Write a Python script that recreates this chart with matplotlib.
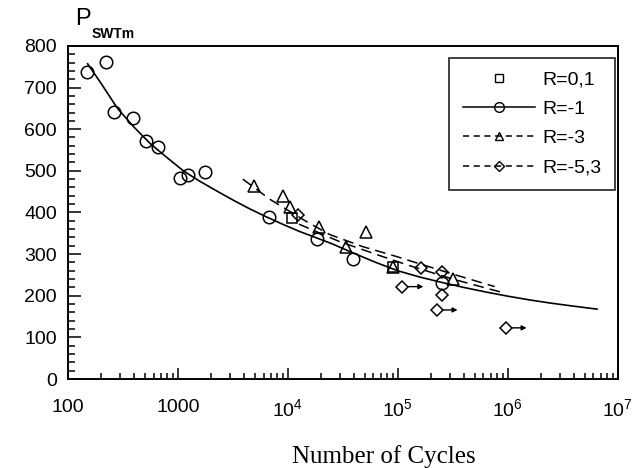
import matplotlib.pyplot as plt
from matplotlib.lines import Line2D
from matplotlib.ticker import FixedLocator, NullFormatter

plt.rcParams['font.family'] = ['Liberation Sans', 'DejaVu Sans']
plt.rcParams['mathtext.fontset'] = 'custom'
plt.rcParams['mathtext.rm'] = 'Liberation Sans'

# test points
N_r01 = [11000, 90000]
P_r01 = [387, 268]

N_rm1 = [149, 221, 262, 390, 513, 660, 1050, 1230, 1760, 6770, 18400, 39000, 250000]
P_rm1 = [737, 761, 641, 626, 571, 557, 482, 491, 496, 390, 337, 289, 231]

N_rm3 = [4900, 9000, 10500, 19000, 34000, 51000, 90000, 316000]
P_rm3 = [463, 439, 414, 366, 316, 354, 270, 241]

N_rm53 = [12300, 162000, 250000, 250000]
P_rm53 = [394, 267, 258, 202]

# run-outs (arrow to the right)
N_run = [110000, 225000, 955000]
P_run = [222, 166, 123]

# fitted curves
N_fit_rm1 = [151, 200, 282, 398, 562, 794, 1120, 1580, 2240, 3160, 4470, 6310,
             8910, 12600, 17800, 25100, 39800, 63100, 100000, 158000, 251000,
             398000, 631000, 1000000, 1580000, 2510000, 3980000, 6460000]
P_fit_rm1 = [757, 710, 650, 605, 565, 532, 500, 475, 452, 430, 409, 390,
             372, 355, 340, 325, 302, 280, 260, 245, 232,
             220, 209, 199, 190, 182, 175, 168]

N_fit_rm3 = [3890, 6920, 14800, 24000, 47900, 97700, 148000, 316000, 759000]
P_fit_rm3 = [480, 431, 378, 347, 318, 294, 279, 252, 222]

N_fit_rm53 = [12600, 29500, 69200, 129000, 316000, 891000]
P_fit_rm53 = [372, 330, 296, 272, 240, 208]

fig = plt.figure(figsize=(6.35, 4.68), dpi=100)
ax = fig.add_axes([0.107, 0.19, 0.866, 0.712])

ax.plot(N_fit_rm1, P_fit_rm1, 'k-', lw=1.2)
ax.plot(N_fit_rm3, P_fit_rm3, 'k', ls=(0, (7, 4)), lw=1.1)
ax.plot(N_fit_rm53, P_fit_rm53, 'k', ls=(0, (7, 4)), lw=1.1)

ax.plot(N_r01, P_r01, 's', ms=7, mfc='none', mec='k', mew=1.1)
ax.plot(N_rm1, P_rm1, 'o', ms=9, mfc='none', mec='k', mew=1.1)
ax.plot(N_rm3, P_rm3, '^', ms=8, mfc='none', mec='k', mew=1.1)
ax.plot(N_rm53, P_rm53, 'D', ms=6, mfc='none', mec='k', mew=1.1)
ax.plot(N_run, P_run, 'D', ms=6, mfc='none', mec='k', mew=1.1)
for n, p in zip(N_run, P_run):
    ax.annotate('', xy=(n * 1.55, p), xytext=(n * 1.12, p),
                arrowprops=dict(arrowstyle='-|>', color='k', lw=1.0,
                                mutation_scale=7, shrinkA=0, shrinkB=0))

ax.set_xscale('log')
ax.set_xlim(100, 1e7)
ax.set_ylim(0, 800)

ax.xaxis.set_major_locator(FixedLocator([1e2, 1e3, 1e4, 1e5, 1e6, 1e7]))
ax.set_xticklabels(['100', '1000', r'$10^4$', r'$10^5$', r'$10^6$', r'$10^7$'])
ax.xaxis.set_minor_formatter(NullFormatter())
ax.set_yticks(range(0, 801, 100))
ax.yaxis.set_minor_locator(FixedLocator(range(0, 801, 20)))

ax.tick_params(which='both', direction='in', width=1.1, labelsize=14)
ax.tick_params(axis='y', which='major', length=9)
ax.tick_params(axis='y', which='minor', length=5)
ax.tick_params(axis='x', which='major', length=8)
ax.tick_params(axis='x', which='minor', length=4)
ax.tick_params(axis='x', pad=14)
ax.tick_params(axis='y', pad=8)
for s in ax.spines.values():
    s.set_linewidth(1.4)

fig.text(0.118, 0.935, 'P', fontsize=17, ha='left', va='bottom')
fig.text(0.145, 0.912, 'SWTm', fontsize=10, weight='bold', ha='left', va='bottom')
fig.text(0.605, 0.025, 'Number of Cycles', fontsize=18, ha='center', va='center',
         family=['Liberation Serif', 'DejaVu Serif'])

handles = [
    Line2D([], [], ls='none', marker='s', ms=6, mfc='none', mec='k'),
    Line2D([], [], color='k', ls='-', lw=1.1, marker='o', ms=7, mfc='none', mec='k'),
    Line2D([], [], color='k', ls=(0, (4, 3)), lw=1.1, marker='^', ms=6, mfc='none', mec='k'),
    Line2D([], [], color='k', ls=(0, (4, 3)), lw=1.1, marker='D', ms=5, mfc='none', mec='k'),
]
leg = ax.legend(handles, ['R=0,1', 'R=-1', 'R=-3', 'R=-5,3'], loc='upper right',
                fontsize=14, frameon=True, fancybox=False, edgecolor='k',
                handlelength=3.7, handletextpad=0.4, borderpad=0.7,
                labelspacing=0.6, borderaxespad=0.0,
                bbox_to_anchor=(0.995, 0.965))
leg.get_frame().set_linewidth(1.3)

fig.savefig('out.png', dpi=100)
